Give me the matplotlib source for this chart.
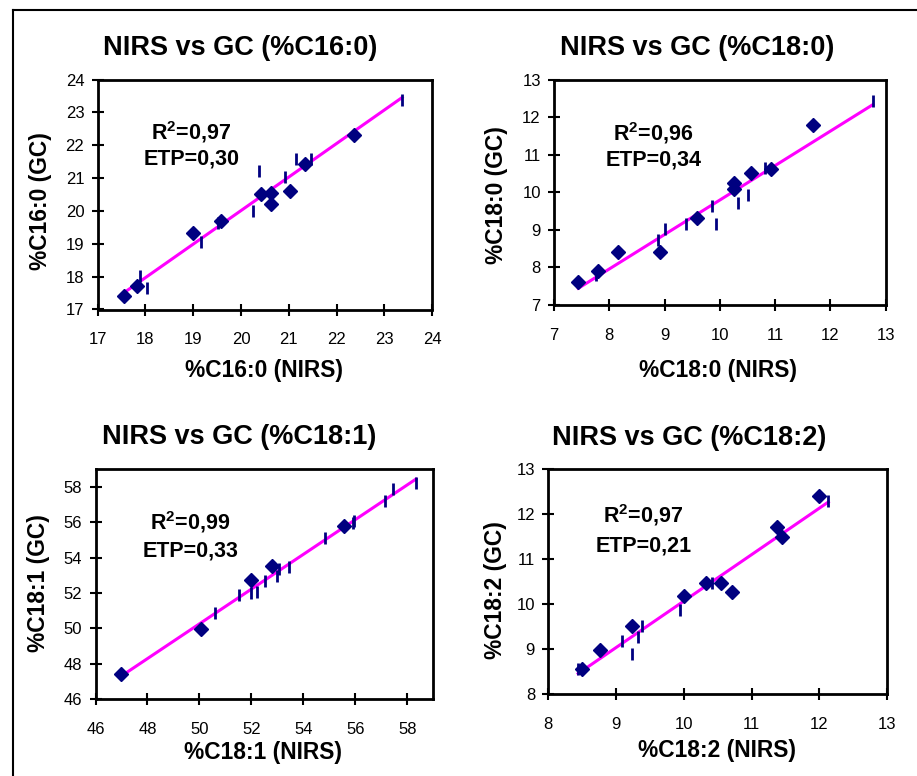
import numpy as np
import matplotlib
matplotlib.use("Agg")
from matplotlib import pyplot as plt
from matplotlib.lines import Line2D

plt.rcParams['font.family'] = ['Liberation Sans', 'DejaVu Sans']
plt.rcParams['mathtext.fontset'] = 'custom'
plt.rcParams['mathtext.rm'] = 'Liberation Sans'
plt.rcParams['mathtext.bf'] = 'Liberation Sans:bold'

# %C16:0
c160_nirs_a = [17.55, 17.83, 19.00, 19.59, 20.41, 20.62, 20.63, 21.03, 21.34, 22.37]
c160_gc_a = [17.42, 17.71, 19.32, 19.68, 20.51, 20.54, 20.21, 20.61, 21.42, 22.30]
c160_nirs_b = [17.88, 18.04, 19.17, 19.52, 20.26, 20.38, 20.93, 21.14, 21.47, 23.37]
c160_gc_b = [18.01, 17.64, 19.04, 19.63, 20.00, 21.21, 21.02, 21.57, 21.57, 23.38]

# %C18:0
c180_nirs_a = [7.44, 7.80, 8.15, 8.92, 9.58, 10.25, 10.25, 10.56, 10.92, 11.68]
c180_gc_a = [7.62, 7.90, 8.42, 8.42, 9.33, 10.25, 10.09, 10.51, 10.62, 11.81]
c180_nirs_b = [7.76, 8.89, 9.00, 9.39, 9.86, 9.94, 10.33, 10.51, 10.82, 12.77]
c180_gc_b = [7.79, 8.72, 9.03, 9.16, 9.63, 9.16, 9.72, 9.94, 10.64, 12.43]

# %C18:1
c181_nirs_a = [46.99, 50.07, 51.99, 52.80, 55.55]
c181_gc_a = [47.40, 49.96, 52.74, 53.53, 55.77]
c181_nirs_b = [50.60, 51.51, 51.99, 52.20, 52.53, 52.97, 53.05, 53.43,
               54.83, 55.90, 55.96, 57.14, 57.43, 58.33]
c181_gc_b = [50.85, 51.87, 51.98, 52.08, 52.65, 52.97, 53.35, 53.44,
             55.10, 55.96, 56.04, 57.17, 57.85, 58.23]

# %C18:2
c182_nirs_a = [8.50, 8.76, 9.24, 10.00, 10.33, 10.55, 10.71, 11.38, 11.45, 12.00]
c182_gc_a = [8.56, 8.98, 9.51, 10.19, 10.48, 10.48, 10.28, 11.72, 11.48, 12.40]
c182_nirs_b = [8.44, 9.09, 9.24, 9.32, 9.38, 9.94, 10.41, 12.13]
c182_gc_b = [8.56, 9.19, 8.89, 9.28, 9.51, 9.86, 10.48, 12.30]

acidos = ['C16:0', 'C18:0', 'C18:1', 'C18:2']
r2 = ['0,97', '0,96', '0,99', '0,97']
etp = ['0,30', '0,34', '0,33', '0,21']

W, H = 917, 776
fig = plt.figure(figsize=(W / 100, H / 100), dpi=100)

# marco exterior (solo se ven los lados izquierdo y superior)
fig.add_artist(Line2D([12.7 / W, 12.7 / W], [0, 1 - 10 / H], color='black', lw=1.5))
fig.add_artist(Line2D([12.7 / W, 1], [1 - 10 / H, 1 - 10 / H], color='black', lw=1.5))


def px(x0, y0, x1, y1):
    return [x0 / W, 1 - y1 / H, (x1 - x0) / W, (y1 - y0) / H]


paneles = [
    dict(nx_a=c160_nirs_a, gc_a=c160_gc_a, nx_b=c160_nirs_b, gc_b=c160_gc_b,
         box=px(97.5, 79.5, 432.3, 309.5), lim=(17, 24), paso=1,
         titulo=(240, 48), xl=(264, 370), yl=(40, 201), txt=(0.28, 0.773, 0.653)),
    dict(nx_a=c180_nirs_a, gc_a=c180_gc_a, nx_b=c180_nirs_b, gc_b=c180_gc_b,
         box=px(554, 80, 885.5, 305), lim=(7, 13), paso=1,
         titulo=(697, 48), xl=(718, 370), yl=(497, 195), txt=(0.30, 0.766, 0.644)),
    dict(nx_a=c181_nirs_a, gc_a=c181_gc_a, nx_b=c181_nirs_b, gc_b=c181_gc_b,
         box=px(95.5, 469, 433.3, 699.3), lim=(46, 59), paso=2,
         titulo=(239, 437), xl=(263, 753), yl=(38, 583), txt=(0.28, 0.771, 0.645)),
    dict(nx_a=c182_nirs_a, gc_a=c182_gc_a, nx_b=c182_nirs_b, gc_b=c182_gc_b,
         box=px(548.3, 469, 887.3, 694.3), lim=(8, 13), paso=1,
         titulo=(689, 438), xl=(717, 750), yl=(495, 590), txt=(0.28, 0.796, 0.658)),
]

for i, p in enumerate(paneles):
    ax = fig.add_axes(p['box'])
    todos_x = np.array(p['nx_a'] + p['nx_b'])
    todos_y = np.array(p['gc_a'] + p['gc_b'])
    m, b = np.polyfit(todos_x, todos_y, 1)
    xr = np.array([todos_x.min(), todos_x.max()])
    ax.plot(xr, m * xr + b, color='#FF00FF', lw=2.2, zorder=2)
    ax.plot(p['nx_a'], p['gc_a'], 'D', color='#000080', ms=6.8, zorder=3)
    ax.plot(p['nx_b'], p['gc_b'], '|', color='#000080', ms=8, mew=2, zorder=3)

    lo, hi = p['lim']
    ax.set_xlim(lo, hi)
    ax.set_ylim(lo, hi)
    ticks = np.arange(lo, hi + 0.01, p['paso'])
    if p['paso'] == 2:
        ticks = ticks[ticks <= 58]
    ax.set_xticks(ticks)
    ax.set_yticks(ticks)
    ax.set_xticklabels([str(int(t)) for t in ticks])
    ax.set_yticklabels([str(int(t)) for t in ticks])
    ax.tick_params(direction='inout', length=9, width=1.5, labelsize=12)
    ax.tick_params(axis='x', pad=12)
    ax.tick_params(axis='y', pad=5)
    for s in ax.spines.values():
        s.set_linewidth(2)

    tx, ty1, ty2 = p['txt']
    ax.text(tx, ty1, 'R$^{\\mathbf{2}}$=' + r2[i], transform=ax.transAxes,
            ha='center', va='center', fontsize=15.5, fontweight='bold')
    ax.text(tx, ty2, 'ETP=' + etp[i], transform=ax.transAxes,
            ha='center', va='center', fontsize=15.5, fontweight='bold')

    a = acidos[i]
    fig.text(p['titulo'][0] / W, 1 - p['titulo'][1] / H, 'NIRS vs GC (%' + a + ')',
             ha='center', va='center', fontsize=19.5, fontweight='bold')
    fig.text(p['xl'][0] / W, 1 - p['xl'][1] / H, '%' + a + ' (NIRS)',
             ha='center', va='center', fontsize=16.4, fontweight='bold')
    fig.text(p['yl'][0] / W, 1 - p['yl'][1] / H, '%' + a + ' (GC)', rotation=90,
             ha='center', va='center', fontsize=16.4, fontweight='bold')

fig.savefig('out.png', dpi=100)
